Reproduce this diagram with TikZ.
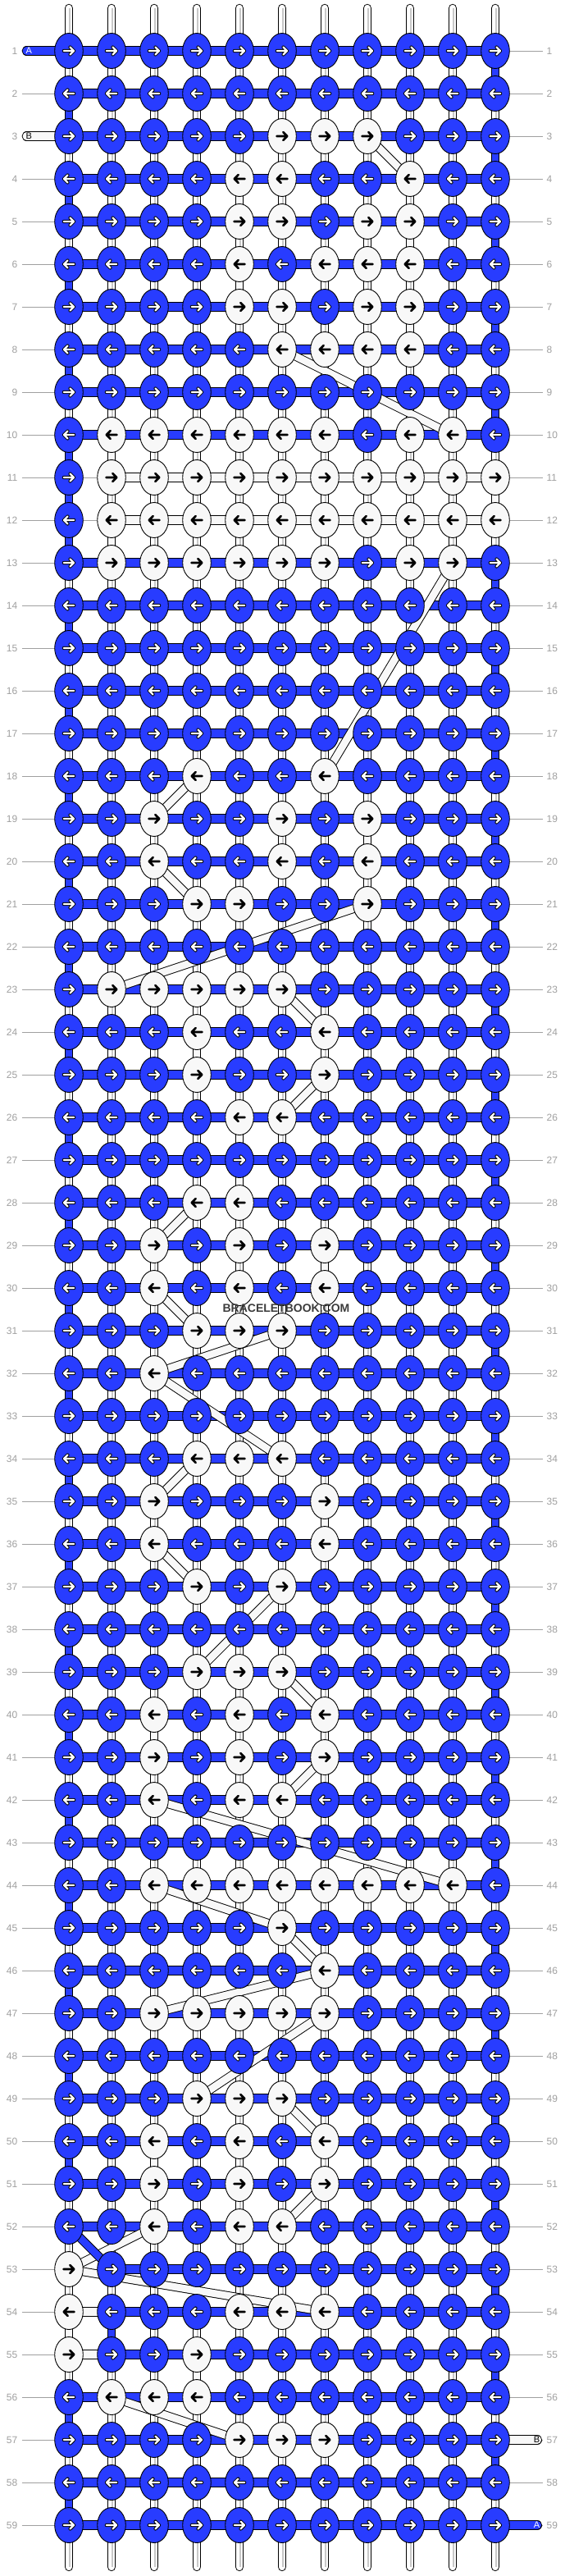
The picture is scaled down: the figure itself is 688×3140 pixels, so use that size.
\documentclass[tikz,border=0pt]{standalone}
\usepackage{fontspec}
\setmainfont{Liberation Sans}
\usetikzlibrary{shapes.geometric}
\definecolor{kblue}{RGB}{40,60,255}
\definecolor{kwhite}{RGB}{248,248,248}
\definecolor{lblgray}{RGB}{160,160,160}
\definecolor{warpgray}{RGB}{200,200,200}
\definecolor{wmgray}{RGB}{60,60,60}
\pgfdeclarelayer{bgl}
\pgfdeclarelayer{lbl}
\pgfdeclarelayer{warp}
\pgfdeclarelayer{bar}
\pgfdeclarelayer{band}
\pgfdeclarelayer{top}
\pgfsetlayers{bgl,lbl,warp,bar,band,main,top}
\tikzset{
  knotB/.style={ellipse,draw=black,line width=0.9pt,fill=kblue,minimum width=34.6pt,minimum height=43pt,inner sep=0pt},
  knotW/.style={knotB,fill=kwhite},
  barO/.style={line width=11.3pt,black},
  barAF/.style={line width=9.4pt,kblue},
  barBF/.style={line width=9.4pt,kwhite},
  warpO/.style={line width=10.7pt,black},
  warpF/.style={line width=8.8pt,white},
  bandBF/.style={line width=8.8pt,kwhite},
  bandAF/.style={line width=8.8pt,kblue},
  lblline/.style={line width=0.8pt,lblgray},
  rowlab/.style={text=lblgray,font=\fontsize{12}{14}\selectfont,inner sep=0pt},
  blobtxt/.style={font=\fontsize{11}{13}\selectfont,inner sep=0pt},
  arrK/.style={line width=2.6pt,black,line cap=round,line join=round},
  arrO/.style={line width=4.2pt,black,line cap=round,line join=round},
  arrWh/.style={line width=2.2pt,white,line cap=round,line join=round},
}
\begin{document}
\begin{tikzpicture}[x=1pt,y=-1pt]
\begin{pgfonlayer}{bgl}
\fill[white] (0,0) rectangle (688,3140);
\end{pgfonlayer}
\useasboundingbox (0,0) rectangle (688,3140);
% registry of white knots
\foreach \r/\cs in {3/{6,7,8},4/{5,6,9},5/{5,6,8,9},6/{5,7,8,9},7/{5,6,8,9},8/{6,7,8,9},10/{2,3,4,5,6,7,9,10},11/{2,...,11},12/{2,...,11},13/{2,3,4,5,6,7,9,10},18/{4,7},19/{3,6,8},20/{3,6,8},21/{4,5,8},23/{2,3,4,5,6},24/{4,7},25/{4,7},26/{5,6},28/{4,5},29/{3,5,7},30/{3,5,7},31/{4,5,6},32/{3},34/{4,5,6},35/{3,7},36/{3,7},37/{4,6},39/{4,5,6},40/{3,5,7},41/{3,5,7},42/{3,5,6},44/{3,...,10},45/{6},46/{7},47/{3,...,7},49/{4,5,6},50/{3,5,7},51/{3,5,7},52/{3,5,6},53/{1},54/{1,5,6,7},55/{1,4},56/{2,3,4},57/{5,6,7}}{
  \foreach \c in \cs {\expandafter\xdef\csname isw-\r-\c\endcsname{1}}
}
% knots
\foreach \r in {1,...,59}{
  \foreach \c in {1,...,11}{
    \pgfmathsetmacro\xx{84+52*(\c-1)}
    \pgfmathsetmacro\yy{62+52*(\r-1)}
    \ifodd\r\relax\def\dd{1}\else\def\dd{-1}\fi
    \ifcsname isw-\r-\c\endcsname
      \node[knotW] (k-\r-\c) at (\xx,\yy) {};
      \draw[arrK,shift={(\xx,\yy)},xscale=\dd] (-6.5,0) -- (6.3,0) (1.4,-4.9) -- (6.3,0) -- (1.4,4.9);
    \else
      \node[knotB] (k-\r-\c) at (\xx,\yy) {};
      \draw[arrO,shift={(\xx,\yy)},xscale=\dd] (-6.2,0) -- (6,0) (1.5,-4.5) -- (6,0) -- (1.5,4.5);
      \draw[arrWh,shift={(\xx,\yy)},xscale=\dd] (-6.2,0) -- (6,0) (1.5,-4.5) -- (6,0) -- (1.5,4.5);
    \fi
  }
}
% row labels and guide lines
\begin{pgfonlayer}{lbl}
\foreach \r in {1,...,59}{
  \pgfmathsetmacro\yy{62+52*(\r-1)}
  \coordinate (gl-\r) at (26.5,\yy);
  \coordinate (gr-\r) at (661.5,\yy);
  \draw[lblline] (gl-\r) -- (gr-\r);
  \node[rowlab,anchor=east] (ll-\r) at (21.5,\yy) {\r};
  \node[rowlab,anchor=west] (lr-\r) at (666.5,\yy) {\r};
}
\end{pgfonlayer}
% warp strings
\begin{pgfonlayer}{warp}
\foreach \c in {1,...,11}{
  \pgfmathsetmacro\xx{84+52*(\c-1)}
  \coordinate (wt-\c) at (\xx,10.1);
  \coordinate (wb-\c) at (\xx,3128.8);
  \draw[warpO,line cap=round] (wt-\c) -- (wb-\c);
  \draw[warpF,line cap=round] (wt-\c) -- (wb-\c);
  \draw[line width=1.1pt,warpgray] ([xshift=1pt]wt-\c) -- ([xshift=1pt]wb-\c);
}
\end{pgfonlayer}
% weft bars
\begin{pgfonlayer}{bar}
\foreach \r in {1,...,10,13,14,...,52,56,57,58,59}{
  \draw[barO] (k-\r-1.center) -- (k-\r-11.center);
  \draw[barAF] (k-\r-1.center) -- (k-\r-11.center);
}
\foreach \r in {53,54,55}{
  \draw[barO] (k-\r-2.center) -- (k-\r-11.center);
  \draw[barAF] (k-\r-2.center) -- (k-\r-11.center);
}
\foreach \r in {11,12}{
  \draw[barO] (k-\r-2.center) -- (k-\r-11.center);
  \draw[barBF] (k-\r-2.center) -- (k-\r-11.center);
}
\foreach \r in {54,55}{
  \draw[barO] (k-\r-1.center) -- (k-\r-2.center);
  \draw[barBF] (k-\r-1.center) -- (k-\r-2.center);
}
% string ends A and B
\coordinate (bA1) at (32.3,62);
\coordinate (bB1) at (32.3,166);
\coordinate (bB2) at (655.4,2974);
\coordinate (bA2) at (655.4,3078);
\draw[barO,line cap=round] (bA1) -- (k-1-1.center);
\draw[barAF,line cap=round] (bA1) -- (k-1-1.center);
\draw[barO,line cap=round] (bB1) -- (k-3-1.center);
\draw[barBF,line cap=round] (bB1) -- (k-3-1.center);
\draw[barO,line cap=round] (k-57-11.center) -- (bB2);
\draw[barBF,line cap=round] (k-57-11.center) -- (bB2);
\draw[barO,line cap=round] (k-59-11.center) -- (bA2);
\draw[barAF,line cap=round] (k-59-11.center) -- (bA2);
\node[blobtxt,text=white] (tA1) at (35.2,62) {A};
\node[blobtxt,text=black] (tB1) at (35.2,166) {B};
\node[blobtxt,text=black] (tB2) at (654.6,2974) {B};
\node[blobtxt,text=white] (tA2) at (654.6,3078) {A};
\end{pgfonlayer}
% carried strings between rows
\begin{pgfonlayer}{band}
\foreach \ra/\ca/\rb/\cb in {3/8/4/9,4/5/5/5,5/9/6/9,6/5/7/5,7/9/8/9,8/6/10/10,10/2/11/2,11/11/12/11,12/2/13/2,13/10/18/7,18/4/19/3,19/8/20/8,20/3/21/4,21/8/23/2,23/6/24/7,24/4/25/4,25/7/26/6,26/5/28/5,28/4/29/3,29/7/30/7,30/3/31/4,31/6/32/3,32/3/34/6,34/4/35/3,35/7/36/7,36/3/37/4,37/6/39/4,39/6/40/7,40/3/41/3,41/7/42/6,42/3/44/10,44/3/45/6,45/6/46/7,46/7/47/3,47/7/49/4,49/6/50/7,50/3/51/3,51/7/52/6,52/3/53/1,53/1/54/7,54/1/55/1,55/4/56/4,56/2/57/5}{
  \draw[warpO] (k-\ra-\ca.center) -- (k-\rb-\cb.center);
  \draw[bandBF] (k-\ra-\ca.center) -- (k-\rb-\cb.center);
}
\foreach \r [evaluate=\r as \rn using int(\r+1)] in {1,...,58}{
  \ifodd\r\relax\def\ca{11}\def\cb{11}\else\def\ca{1}\def\cb{1}\fi
  \ifnum\r=11 \def\ca{1}\def\cb{1}\fi
  \ifnum\r=52 \def\cb{2}\fi
  \ifnum\r=54 \def\ca{2}\def\cb{2}\fi
  \draw[warpO] (k-\r-\ca.center) -- (k-\rn-\cb.center);
  \draw[bandAF] (k-\r-\ca.center) -- (k-\rn-\cb.center);
}
\end{pgfonlayer}
% watermark
\begin{pgfonlayer}{top}
\node[text=wmgray,font=\bfseries\fontsize{14}{16}\selectfont,inner sep=0pt] (wm) at (349,1595) {BRACELETBOOK.COM};
\end{pgfonlayer}
\end{tikzpicture}
\end{document}
